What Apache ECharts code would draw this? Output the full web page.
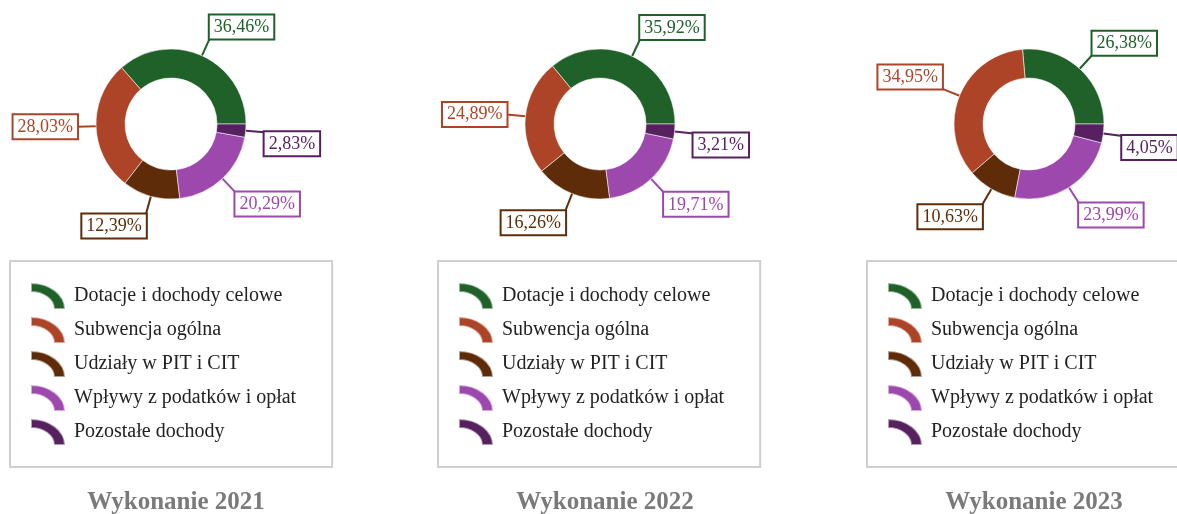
<!DOCTYPE html>
<html>
<head>
<meta charset="utf-8">
<script src="https://cdn.jsdelivr.net/npm/echarts@6/dist/echarts.min.js"></script>
<style>html,body{margin:0;padding:0;background:#fff}#c{width:1177px;height:514px}</style>
</head>
<body>
<div id="c"></div>
<script>
const categories = ['Dotacje i dochody celowe', 'Subwencja ogólna', 'Udziały w PIT i CIT', 'Wpływy z podatków i opłat', 'Pozostałe dochody'];
const titles = ['Wykonanie 2021', 'Wykonanie 2022', 'Wykonanie 2023'];
const values2021 = [36.46, 28.03, 12.39, 20.29, 2.83];
const values2022 = [35.92, 24.89, 16.26, 19.71, 3.21];
const values2023 = [26.38, 34.95, 10.63, 23.99, 4.05];
const colors = ['#1f6129', '#ad4427', '#5e2c08', '#9d48ad', '#57215f'];

const allValues = [values2021, values2022, values2023];
const centersX = [171, 600, 1029];
const centerY = 124;
const legendLeft = [10, 438, 867];
const FONT = '"Liberation Serif", "Times New Roman", serif';
const ICON = 'path://M0,0 A34,26 0 0 1 34,26 L23,26 A23,17 0 0 0 0,9 Z';

function fmt(v) { return v.toFixed(2).replace('.', ',') + '%'; }

function layoutLabel(params) {
  const pts = params.labelLinePoints;
  if (!pts || pts.length < 2) return {};
  const dx = pts[1][0] - pts[0][0];
  const dy = pts[1][1] - pts[0][1];
  const len = Math.sqrt(dx * dx + dy * dy) || 1;
  const ny = dy / len;
  let va = 'middle';
  if (ny < -0.2) va = 'bottom';
  else if (ny > 0.05) va = 'top';
  return { verticalAlign: va };
}

const series = allValues.map((vals, si) => ({
  type: 'pie',
  center: [centersX[si], centerY],
  radius: [46, 75],
  startAngle: 0,
  clockwise: false,
  avoidLabelOverlap: false,
  itemStyle: { borderColor: 'rgba(255,255,255,0.55)', borderWidth: 1 },
  label: {
    show: true,
    position: 'outside',
    fontFamily: FONT,
    fontSize: 18,
    backgroundColor: '#fff',
    borderWidth: 2,
    padding: [3, 4, 2, 4],
    distanceToLabelLine: 0,
    formatter: p => fmt(p.value)
  },
  labelLine: { show: true, length: 19, length2: 0, lineStyle: { width: 2 } },
  labelLayout: layoutLabel,
  emphasis: { disabled: true },
  data: categories.map((name, i) => ({
    name: name,
    value: vals[i],
    itemStyle: { color: colors[i] },
    label: { color: colors[i], borderColor: colors[i] }
  }))
}));

const legends = legendLeft.map(l => ({
  orient: 'vertical',
  left: l,
  top: 261,
  data: categories,
  icon: ICON,
  itemWidth: 34,
  itemHeight: 26,
  itemGap: 6,
  padding: [21, 36, 21, 20],
  borderColor: '#cfcfcf',
  borderWidth: 2,
  selectedMode: false,
  textStyle: { fontFamily: FONT, fontSize: 20, color: '#222', padding: [0, 0, 0, 4] }
}));

const titleOpts = titles.map((t, i) => ({
  text: t,
  left: centersX[i],
  textAlign: 'center',
  top: 485,
  textStyle: { fontFamily: FONT, fontSize: 25, fontWeight: 'bold', color: '#7a7a7a' }
}));

const chart = echarts.init(document.getElementById('c'), null, { renderer: 'canvas' });
chart.setOption({
  animation: false,
  color: colors,
  title: titleOpts,
  legend: legends,
  series: series
});
</script>
</body>
</html>
